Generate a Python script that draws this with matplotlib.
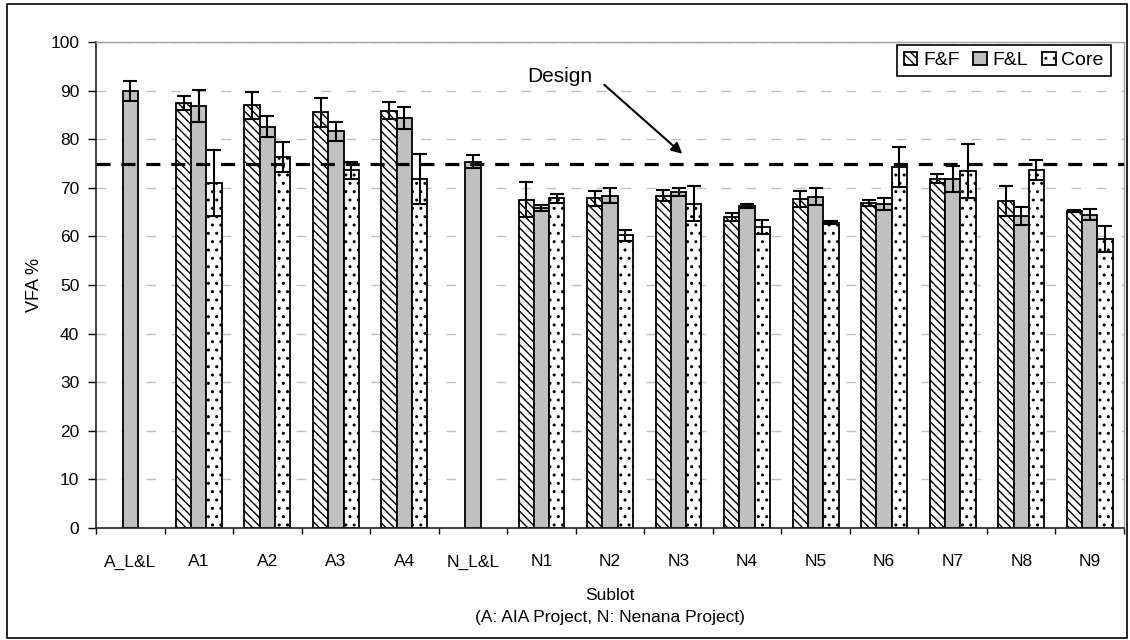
import numpy as np
import matplotlib
matplotlib.use("Agg")
import matplotlib.pyplot as plt
from matplotlib.patches import Rectangle
from matplotlib.ticker import FixedLocator, NullFormatter

plt.rcParams['font.family'] = ['Liberation Sans', 'DejaVu Sans']
plt.rcParams['hatch.linewidth'] = 1.0

sublots = ['A_L&L', 'A1', 'A2', 'A3', 'A4', 'N_L&L',
           'N1', 'N2', 'N3', 'N4', 'N5', 'N6', 'N7', 'N8', 'N9']
nan = np.nan

# mean VFA (%) and standard deviation per sublot
ff_mean = [nan, 87.4, 87.0, 85.5, 85.9, nan,
           67.5, 67.8, 68.4, 64.0, 67.7, 66.9, 71.9, 67.3, 65.3]
ff_sd = [nan, 1.4, 2.8, 2.9, 1.7, nan,
         3.6, 1.6, 1.2, 0.8, 1.6, 0.6, 0.9, 3.0, 0.2]
fl_mean = [89.9, 86.9, 82.6, 81.6, 84.3, 75.4,
           65.9, 68.4, 69.2, 66.2, 68.2, 66.7, 71.8, 64.2, 64.5]
fl_sd = [2.1, 3.3, 2.2, 2.0, 2.3, 1.4,
         0.6, 1.6, 0.8, 0.4, 1.8, 1.2, 2.6, 1.8, 1.1]
core_mean = [nan, 70.9, 76.3, 73.6, 71.8, nan,
             67.8, 60.2, 66.7, 61.9, 62.8, 74.2, 73.5, 73.7, 59.4]
core_sd = [nan, 6.8, 3.1, 1.8, 5.1, nan,
           1.0, 1.2, 3.6, 1.5, 0.3, 4.1, 5.6, 2.0, 2.7]
design_vfa = 75

fig = plt.figure(figsize=(11.3, 6.4), dpi=100)
ax = fig.add_axes([96/1130, 1 - 528/640, 1028/1130, 486/640])

x = np.arange(len(sublots))
w = 0.223
series = [
    ('F&F', ff_mean, ff_sd, -w, 'white', '\\\\\\\\'),
    ('F&L', fl_mean, fl_sd, 0.0, '#c0c0c0', None),
    ('Core', core_mean, core_sd, w, 'white', '..'),
]
for name, m, sd, off, fc, hatch in series:
    ax.bar(x + off, m, w, color=fc, edgecolor='black', linewidth=1.3,
           hatch=hatch, label=name, zorder=2)
    ax.errorbar(x + off, m, yerr=sd, fmt='none', ecolor='black',
                elinewidth=1.5, capsize=5, capthick=1.5, zorder=3)

# design line and its label
ax.axhline(design_vfa, color='black', lw=2.3, linestyle=(0, (4.4, 3.4)), zorder=4)
ax.text(6.27, 93.0, 'Design', ha='center', va='center', fontsize=15)
ax.annotate('', xy=(8.055, 77.0), xytext=(6.916, 91.2),
            arrowprops=dict(arrowstyle='-|>', color='black', lw=1.5,
                            mutation_scale=16, shrinkA=0, shrinkB=0))

ax.set_xlim(-0.5, len(sublots) - 0.5)
ax.set_ylim(0, 100)
ax.set_yticks(np.arange(0, 101, 10))
ax.yaxis.grid(True, color='#c0c0c0', lw=1.0, linestyle=(0, (7, 11)))
ax.set_axisbelow(True)

ax.set_xticks(x)
ax.set_xticklabels(sublots)
ax.xaxis.set_minor_locator(FixedLocator(np.arange(-0.5, len(sublots), 1.0)))
ax.xaxis.set_minor_formatter(NullFormatter())
ax.tick_params(axis='x', which='major', length=0, pad=19, labelsize=12.5)
ax.tick_params(axis='x', which='minor', length=4, width=1, direction='out')
ax.tick_params(axis='y', length=6, width=1, pad=6, labelsize=12.5)

for s in ['top', 'right']:
    ax.spines[s].set_color('#a0a0a0')
    ax.spines[s].set_linewidth(1.0)
for s in ['left', 'bottom']:
    ax.spines[s].set_color('#222222')
    ax.spines[s].set_linewidth(1.2)

ax.set_ylabel('VFA %', fontsize=13, labelpad=5)
ax.set_xlabel('Sublot\n(A: AIA Project, N: Nenana Project)', fontsize=12.5,
              labelpad=13, linespacing=1.6)

leg = ax.legend(loc='upper right', bbox_to_anchor=(0.987, 0.994),
                borderaxespad=0, ncol=3, fontsize=14, frameon=True,
                fancybox=False, edgecolor='black', framealpha=1,
                handlelength=0.7, handleheight=0.7, handletextpad=0.3,
                columnspacing=0.7, borderpad=0.35)
leg.get_frame().set_linewidth(1.2)

# outer chart border
fig.patches.append(Rectangle((7/1130, 2/640), 1120/1130, 634/640,
                             transform=fig.transFigure, fill=False,
                             edgecolor='black', lw=1.2))

fig.savefig('out.png', dpi=100)
